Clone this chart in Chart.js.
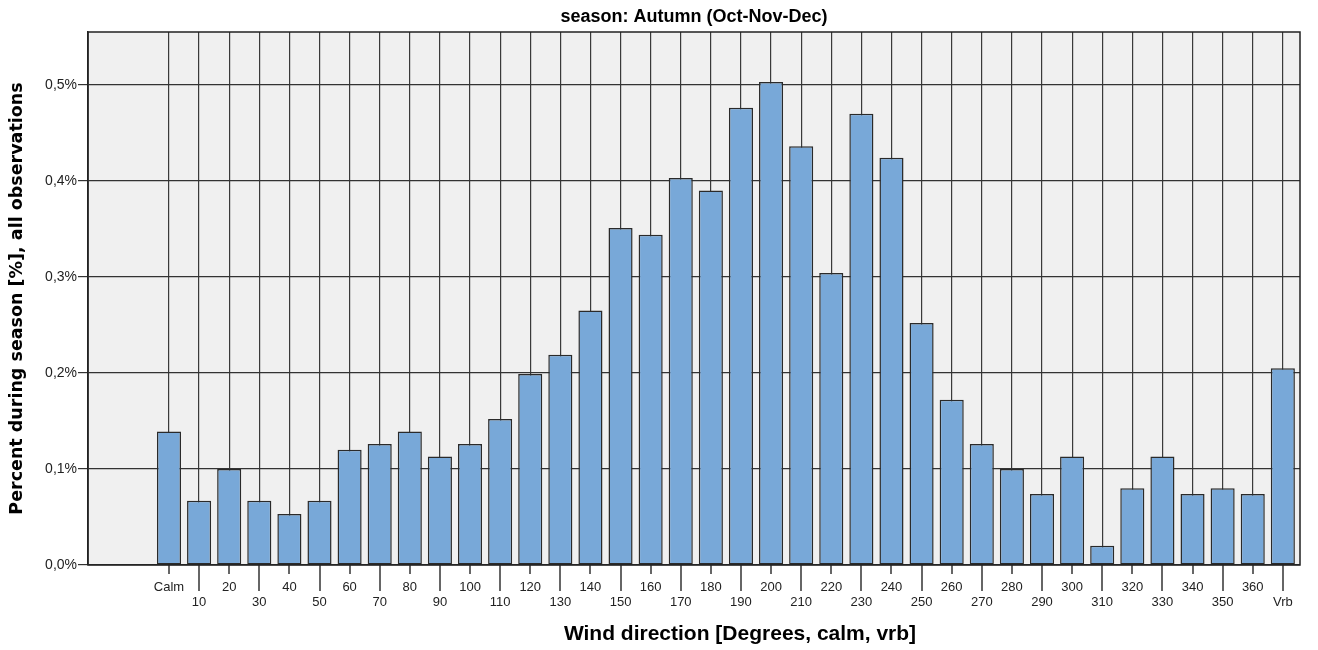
<!DOCTYPE html>
<html>
<head>
<meta charset="utf-8">
<script src="https://cdn.jsdelivr.net/npm/chart.js@4"></script>
<style>
  html, body { margin: 0; padding: 0; background: #fff; }
  #wrap { width: 1318px; height: 650px; }
</style>
</head>
<body>
<div id="wrap"><canvas id="windChart"></canvas></div>
<script>
// wind direction categories and share of all observations (%)
const directions = ['Calm', '10', '20', '30', '40', '50', '60', '70', '80', '90',
    '100', '110', '120', '130', '140', '150', '160', '170', '180', '190',
    '200', '210', '220', '230', '240', '250', '260', '270', '280', '290',
    '300', '310', '320', '330', '340', '350', '360', 'Vrb'];
const percentValues = [0.139, 0.067, 0.100, 0.067, 0.053, 0.067, 0.120, 0.126, 0.139, 0.113,
    0.126, 0.152, 0.199, 0.219, 0.265, 0.351, 0.344, 0.403, 0.390, 0.476,
    0.503, 0.436, 0.304, 0.470, 0.424, 0.252, 0.172, 0.126, 0.100, 0.074,
    0.113, 0.020, 0.080, 0.113, 0.074, 0.080, 0.074, 0.205];
const yTicks = [0, 0.1, 0.2, 0.3, 0.4, 0.5];
const chartTitle = 'season: Autumn (Oct-Nov-Dec)';
const xTitle = 'Wind direction [Degrees, calm, vrb]';
const yTitle = 'Percent during season [%], all observations';

const barData = percentValues.map((v, i) => ({ x: i, y: v }));

// SPSS style: short ticks under top row labels, long ticks under bottom row labels
const tickMarks = {
    id: 'tickMarks',
    afterDraw(chart) {
        const ctx = chart.ctx;
        const xs = chart.scales.x;
        const bottom = chart.chartArea.bottom;
        ctx.save();
        ctx.strokeStyle = '#333';
        ctx.lineWidth = 1.5;
        directions.forEach((d, i) => {
            const px = Math.round(xs.getPixelForValue(i));
            ctx.beginPath();
            ctx.moveTo(px, bottom);
            ctx.lineTo(px, bottom + (i % 2 === 0 ? 9 : 26));
            ctx.stroke();
        });
        ctx.fillStyle = '#000';
        ctx.textAlign = 'center';
        ctx.textBaseline = 'middle';
        ctx.font = 'bold 18px "Liberation Sans", Arial, sans-serif';
        ctx.fillText(chartTitle, (chart.chartArea.left + chart.chartArea.right) / 2, 17);
        ctx.font = 'bold 21px "Liberation Sans", Arial, sans-serif';
        ctx.fillText(xTitle, 740, 634);
        ctx.restore();
    }
};

const plotBackground = {
    id: 'plotBackground',
    beforeDraw(chart) {
        const { ctx, chartArea } = chart;
        ctx.save();
        ctx.fillStyle = '#f0f0f0';
        ctx.fillRect(chartArea.left, chartArea.top, chartArea.right - chartArea.left, chartArea.bottom - chartArea.top);
        ctx.restore();
    }
};

new Chart(document.getElementById('windChart').getContext('2d'), {
    type: 'bar',
    data: {
        datasets: [{
            data: barData,
            backgroundColor: '#78a8d8',
            borderColor: '#2a2a2a',
            borderWidth: 1.5,
            borderSkipped: false,
            barPercentage: 0.8,
            categoryPercentage: 1
        }]
    },
    options: {
        responsive: true,
        maintainAspectRatio: false,
        animation: false,
        layout: { padding: { top: 32, right: 18, left: 0, bottom: 0 } },
        plugins: {
            legend: { display: false },
            tooltip: { enabled: false }
        },
        scales: {
            x: {
                type: 'linear',
                offset: false,
                min: -2.69,
                max: 37.57,
                afterBuildTicks: axis => {
                    axis.ticks = directions.map((d, i) => ({ value: i }));
                },
                afterFit: scale => { scale.height = 85; },
                grid: {
                    offset: false,
                    color: '#3a3a3a',
                    lineWidth: 1.2,
                    drawTicks: true,
                    tickLength: 8,
                    tickColor: 'rgba(0,0,0,0)'
                },
                border: { display: false },
                ticks: {
                    autoSkip: false,
                    maxRotation: 0,
                    minRotation: 0,
                    padding: 7,
                    color: '#222',
                    font: { family: '"Liberation Sans", Arial, sans-serif', size: 13, lineHeight: 1.15 },
                    callback: (value) => {
                        const i = Math.round(value);
                        return i % 2 === 0 ? [directions[i], ''] : ['', directions[i]];
                    }
                }
            },
            y: {
                min: 0,
                max: 0.555,
                afterBuildTicks: axis => {
                    axis.ticks = yTicks.map(v => ({ value: v }));
                },
                afterFit: scale => { scale.width = 88; },
                grid: {
                    color: '#333',
                    lineWidth: 1.2,
                    tickLength: 10,
                    tickColor: '#333'
                },
                border: { display: true, color: '#222', width: 1.5 },
                ticks: {
                    padding: 1,
                    color: '#222',
                    font: { family: '"Liberation Sans", Arial, sans-serif', size: 14 },
                    callback: v => v.toFixed(1).replace('.', ',') + '%'
                },
                title: {
                    display: true,
                    text: yTitle,
                    color: '#000',
                    font: { family: '"DejaVu Sans", Verdana, sans-serif', size: 17.5, weight: 'bold' },
                    padding: { top: 7, bottom: 0 }
                }
            }
        }
    },
    plugins: [plotBackground, tickMarks, {
        id: 'frame',
        afterDraw(chart) {
            const { ctx, chartArea } = chart;
            ctx.save();
            ctx.strokeStyle = '#222';
            ctx.lineWidth = 1.5;
            ctx.strokeRect(chartArea.left, chartArea.top, chartArea.right - chartArea.left, chartArea.bottom - chartArea.top);
            ctx.restore();
        }
    }]
});
</script>
</body>
</html>
